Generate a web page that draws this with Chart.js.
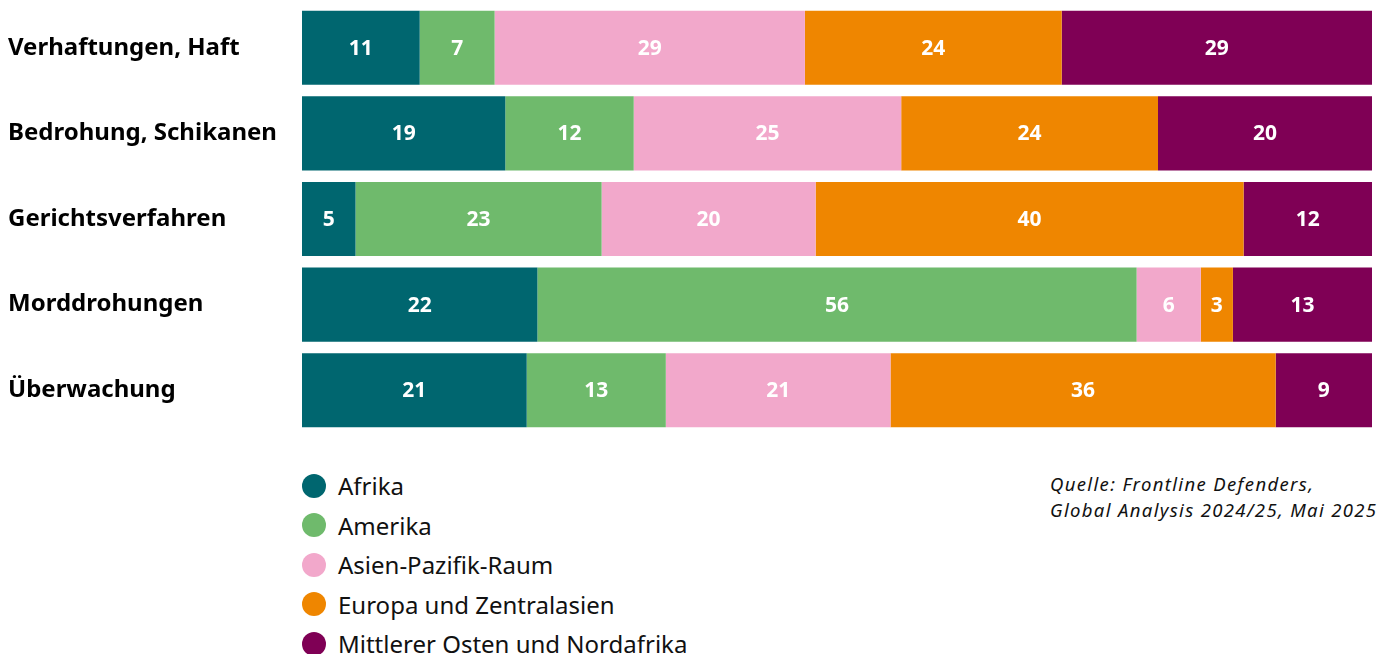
<!DOCTYPE html>
<html>
<head>
<meta charset="utf-8">
<script src="https://cdn.jsdelivr.net/npm/chart.js@4"></script>
<style>
    body { margin: 0; background: #fff; }
    #wrap { position: absolute; left: 0; top: 0; width: 1378px; height: 438px; }
    #legend { position: absolute; left: 302px; top: 466px; font-family: "Noto Sans", sans-serif; font-size: 24px; color: #111; }
    .item { height: 39.5px; display: flex; align-items: center; }
    .dot { width: 24px; height: 24px; border-radius: 50%; margin-right: 12px; }
    #source { position: absolute; left: 1050px; top: 471px; font-family: "Noto Sans", sans-serif; font-style: italic; font-size: 18.5px; letter-spacing: 1.35px; line-height: 26px; color: #111; white-space: nowrap; }
</style>
</head>
<body>
<div id="wrap"><canvas id="barChart"></canvas></div>
<div id="legend"></div>
<div id="source">Quelle: Frontline Defenders,<br>Global Analysis 2024/25, Mai 2025</div>
<script>
'use strict';

var categories = ['Verhaftungen, Haft', 'Bedrohung, Schikanen', 'Gerichtsverfahren', 'Morddrohungen', 'Überwachung'];
var regions = ['Afrika', 'Amerika', 'Asien-Pazifik-Raum', 'Europa und Zentralasien', 'Mittlerer Osten und Nordafrika'];
var colors = ['#00666f', '#6fba6c', '#f2a8cb', '#ef8600', '#7f0055'];

var afrika = [11, 19, 5, 22, 21];
var amerika = [7, 12, 23, 56, 13];
var asien = [29, 25, 20, 6, 21];
var europa = [24, 24, 40, 3, 36];
var nahost = [29, 20, 12, 13, 9];

var seriesValues = [afrika, amerika, asien, europa, nahost];

// draws the number in the middle of every segment
var valueLabels = {
    id: 'valueLabels',
    afterDatasetsDraw: function (chart) {
        var ctx = chart.ctx;
        ctx.save();
        ctx.fillStyle = '#fff';
        ctx.font = 'bold 21px "Noto Sans"';
        ctx.textAlign = 'center';
        ctx.textBaseline = 'middle';
        chart.data.datasets.forEach(function (ds, i) {
            var meta = chart.getDatasetMeta(i);
            meta.data.forEach(function (bar, j) {
                var cx = (bar.x + bar.base) / 2;
                ctx.fillText(String(ds.data[j]), cx, bar.y + 1);
            });
        });
        ctx.restore();
    }
};

var datasets = [];
for (var i = 0; i < regions.length; i++) {
    datasets.push({
        label: regions[i],
        data: seriesValues[i],
        backgroundColor: colors[i],
        borderWidth: 0,
        barPercentage: 0.866,
        categoryPercentage: 1
    });
}

var barChart = new Chart(document.getElementById('barChart').getContext('2d'), {
    type: 'bar',
    data: {
        labels: categories,
        datasets: datasets
    },
    options: {
        indexAxis: 'y',
        responsive: true,
        maintainAspectRatio: false,
        animation: false,
        layout: { padding: { left: 8, right: 6, top: 5, bottom: 5 } },
        plugins: {
            legend: { display: false },
            tooltip: { enabled: false }
        },
        scales: {
            x: { stacked: true, min: 0, max: 100, display: false },
            y: {
                stacked: true,
                grid: { display: false, drawTicks: false },
                border: { display: false },
                ticks: {
                    crossAlign: 'far',
                    color: '#000',
                    font: { family: 'Noto Sans', size: 24, weight: 'bold' }
                },
                afterFit: function (scale) {
                    scale.width = 294;
                    scale.paddingTop = 0;
                    scale.paddingBottom = 0;
                }
            }
        }
    },
    plugins: [valueLabels]
});

var legend = document.getElementById('legend');
for (var k = 0; k < regions.length; k++) {
    var item = document.createElement('div');
    item.className = 'item';
    var dot = document.createElement('span');
    dot.className = 'dot';
    dot.style.background = colors[k];
    var txt = document.createElement('span');
    txt.textContent = regions[k];
    item.appendChild(dot);
    item.appendChild(txt);
    legend.appendChild(item);
}
</script>
</body>
</html>
